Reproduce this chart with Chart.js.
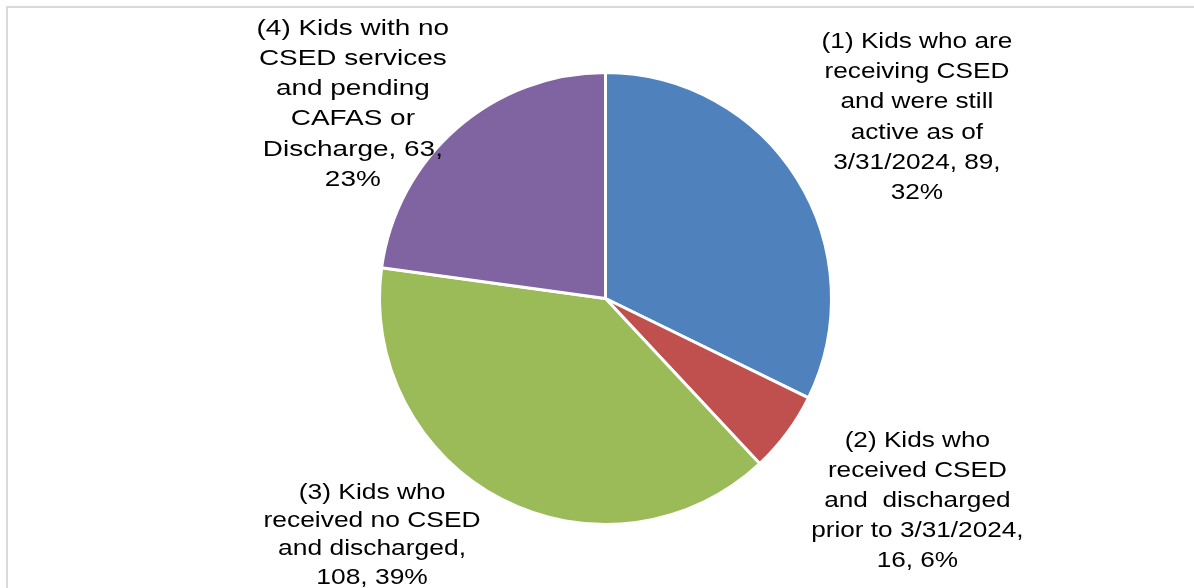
<!DOCTYPE html>
<html lang="en">
<head>
    <meta charset="UTF-8">
    <title>CSED status of kids</title>
    <script src="https://cdn.jsdelivr.net/npm/chart.js"></script>
    <style>
        html, body {
            margin: 0;
            padding: 0;
            background: #ffffff;
        }
        .wrap {
            position: relative;
            width: 1194px;
            height: 588px;
        }
    </style>
</head>
<body>
    <div class="wrap">
        <canvas id="pieChart" width="1194" height="588"></canvas>
    </div>

    <script>
        // categories and values
        const categories = [
            '(1) Kids who are receiving CSED and were still active as of 3/31/2024',
            '(2) Kids who received CSED and discharged prior to 3/31/2024',
            '(3) Kids who received no CSED and discharged',
            '(4) Kids with no CSED services and pending CAFAS or Discharge'
        ];
        const counts = [89, 16, 108, 63];

        // wrapped label text, {v} = value, {p} = percent
        const labelLines = [
            ['(1) Kids who are', 'receiving CSED', 'and were still', 'active as of', '3/31/2024, {v},', '{p}'],
            ['(2) Kids who', 'received CSED', 'and  discharged', 'prior to 3/31/2024,', '{v}, {p}'],
            ['(3) Kids who', 'received no CSED', 'and discharged,', '{v}, {p}'],
            ['(4) Kids with no', 'CSED services', 'and pending', 'CAFAS or', 'Discharge, {v},', '{p}']
        ];

        const sliceColors = ['#4f81bd', '#c0504d', '#9bbb59', '#8064a2'];

        // label block: x of centre and first baseline (in pie radii from the centre),
        // line step in px and horizontal stretch of the text
        const labelPos = [
            [1.378, -1.108],
            [1.380, 0.659],
            [-1.033, 0.885],
            [-1.118, -1.167]
        ];
        const labelStep = [30.2, 29.8, 28.4, 30.2];
        const labelStretch = [1.19, 1.19, 1.2, 1.27];

        const total = counts.reduce((a, b) => a + b, 0);

        // 外框 + 数据标签
        const labelPlugin = {
            id: 'pieLabels',
            beforeDraw(chart) {
                const ctx = chart.ctx;
                ctx.save();
                ctx.strokeStyle = '#d9d9d9';
                ctx.lineWidth = 2;
                ctx.beginPath();
                ctx.moveTo(7, 700);
                ctx.lineTo(7, 7);
                ctx.lineTo(1300, 7);
                ctx.stroke();
                ctx.restore();
            },
            afterDatasetsDraw(chart) {
                const ctx = chart.ctx;
                const arcs = chart.getDatasetMeta(0).data;
                ctx.save();
                ctx.fillStyle = '#000000';
                ctx.font = '22px "Liberation Sans", Arial, sans-serif';
                ctx.textAlign = 'center';
                ctx.textBaseline = 'alphabetic';
                arcs.forEach((arc, i) => {
                    const R = arc.outerRadius;
                    const x = arc.x + labelPos[i][0] * R;
                    const y0 = arc.y + labelPos[i][1] * R;
                    const pct = Math.round(counts[i] / total * 100) + '%';
                    labelLines[i].forEach((t, k) => {
                        const text = t.replace('{v}', counts[i]).replace('{p}', pct);
                        ctx.save();
                        ctx.translate(x, y0 + k * labelStep[i]);
                        ctx.scale(labelStretch[i], 1);
                        ctx.fillText(text, 0, 0);
                        ctx.restore();
                    });
                });
                ctx.restore();
            }
        };

        const pieChart = new Chart(document.getElementById('pieChart'), {
            type: 'pie',
            data: {
                labels: categories,
                datasets: [{
                    data: counts,
                    backgroundColor: sliceColors,
                    borderColor: '#ffffff',
                    borderWidth: 3,
                    hoverOffset: 0,
                    hoverBorderWidth: 3
                }]
            },
            options: {
                responsive: false,
                animation: false,
                radius: 226,
                layout: {
                    padding: { left: 375.5, right: 358.5, top: 68.5, bottom: 59.5 }
                },
                plugins: {
                    legend: { display: false },
                    tooltip: { enabled: false }
                }
            },
            plugins: [labelPlugin]
        });
    </script>
</body>
</html>
